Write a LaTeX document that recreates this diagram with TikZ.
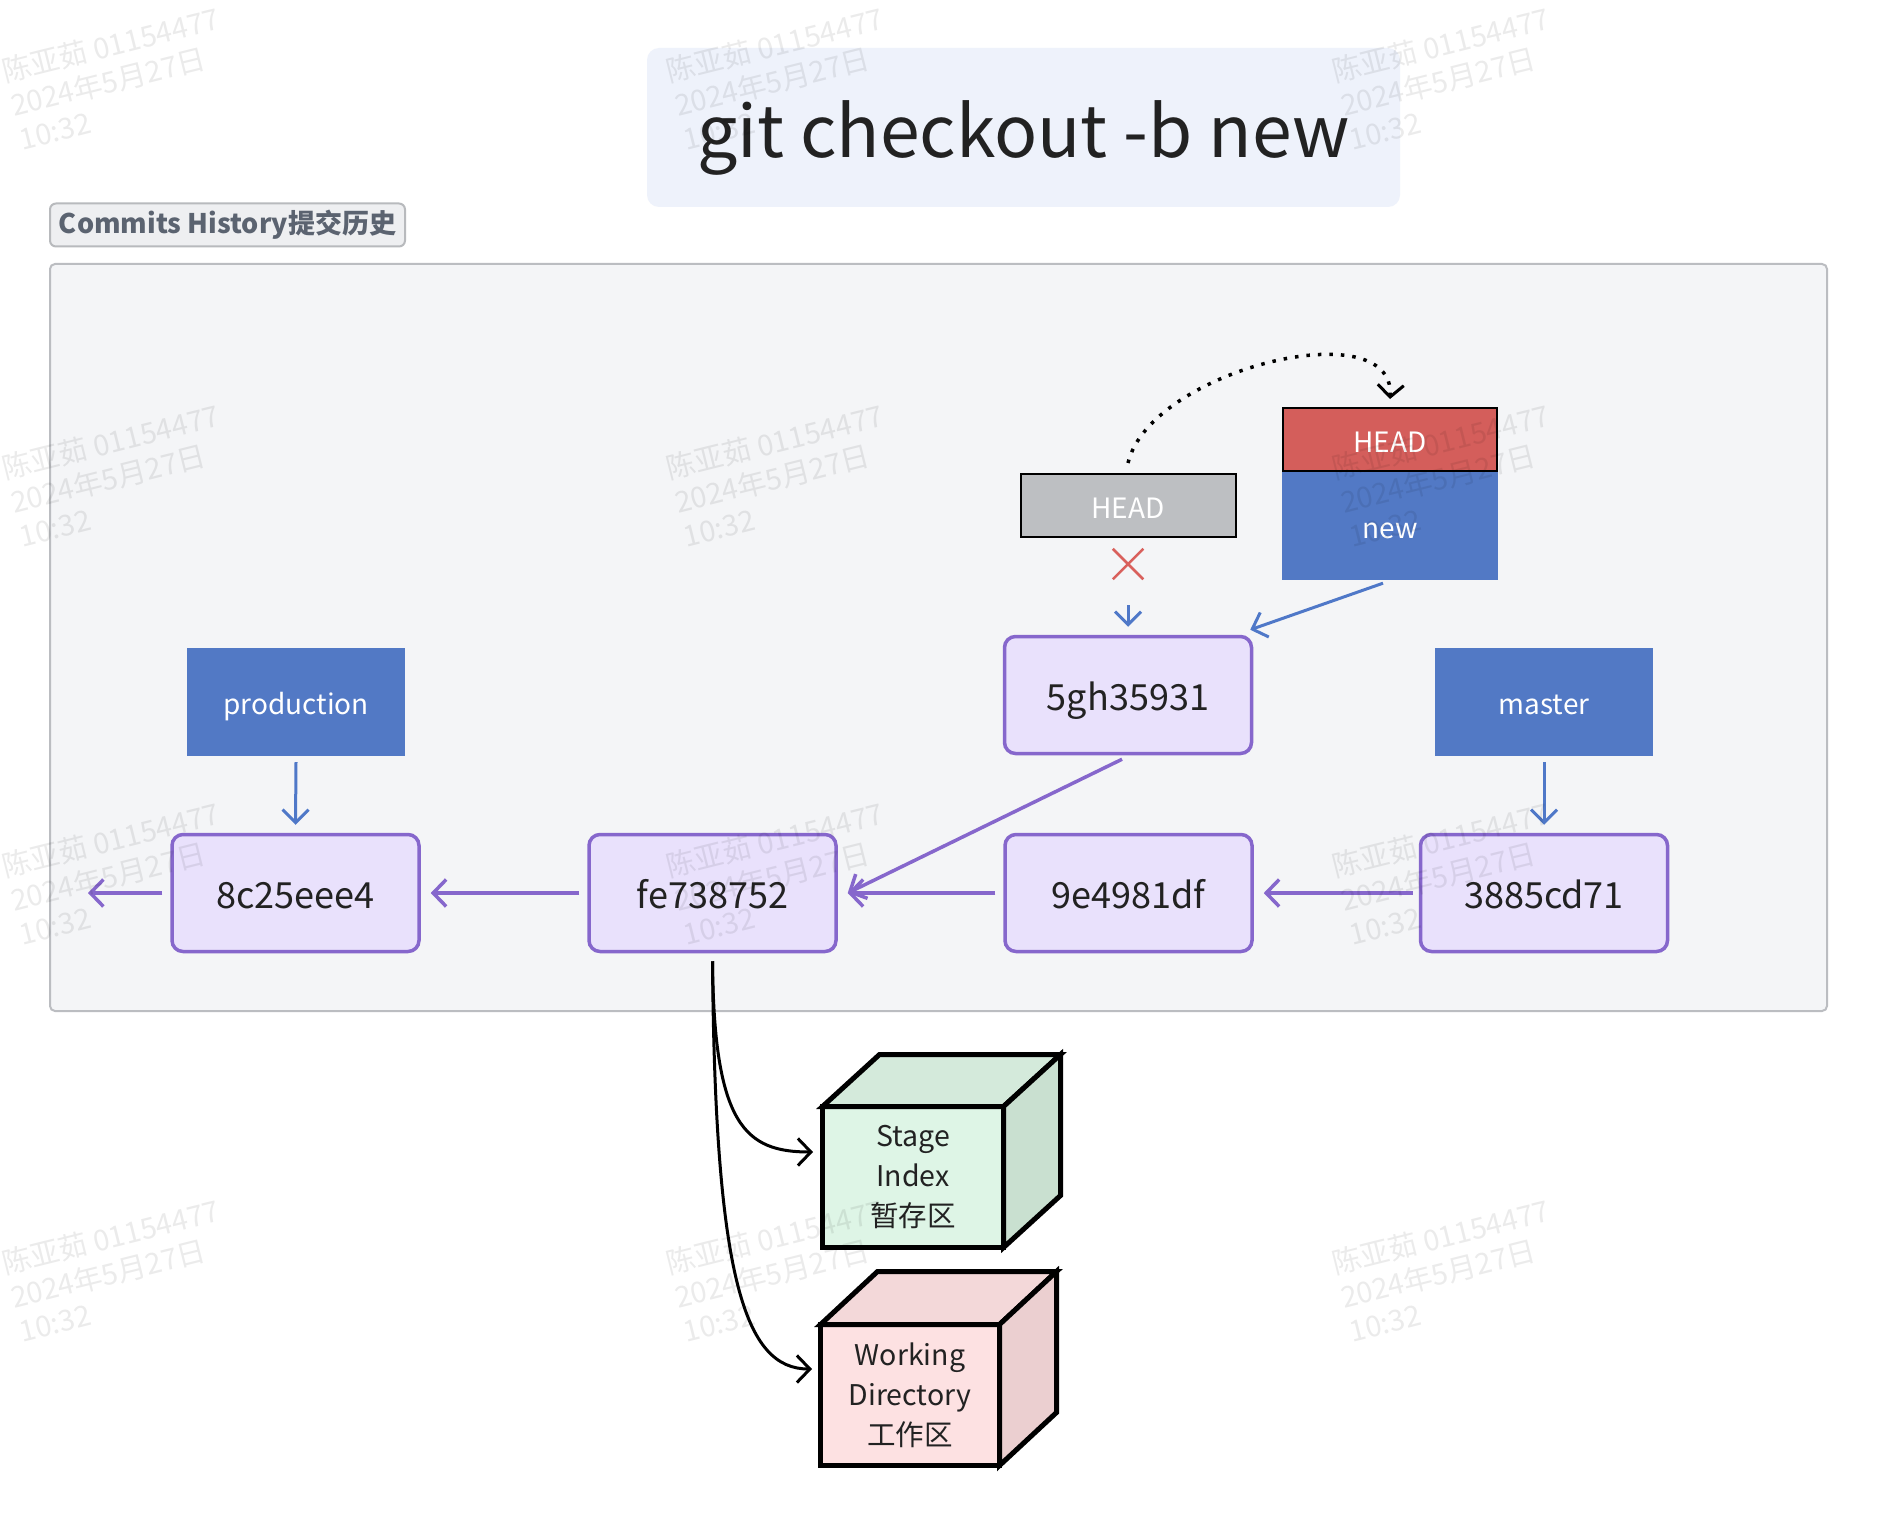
\documentclass[tikz,border=0pt]{standalone}
\usepackage{fontspec}
\setmainfont{Noto Sans CJK SC}
\usetikzlibrary{arrows.meta,calc,shapes.misc}
\definecolor{commitfill}{HTML}{E9E1FC}
\definecolor{commitdraw}{HTML}{8667CC}
\definecolor{branchblue}{HTML}{5279C5}
\definecolor{arrowblue}{HTML}{4F78C8}
\definecolor{headred}{HTML}{D45E5B}
\definecolor{headgray}{HTML}{BDBFC2}
\definecolor{panelfill}{HTML}{F4F5F7}
\definecolor{panelline}{HTML}{BBBDC1}
\definecolor{titlefill}{HTML}{EEF2FB}
\definecolor{labelfill}{HTML}{EEEFF1}
\definecolor{labelline}{HTML}{B8BABD}
\definecolor{labeltext}{HTML}{5B6370}
\definecolor{textdark}{HTML}{222222}
\definecolor{xred}{HTML}{D9605C}
\definecolor{stgfront}{HTML}{DEF5E6}
\definecolor{stgtop}{HTML}{D4EADB}
\definecolor{stgside}{HTML}{C9E0D0}
\definecolor{wrkfront}{HTML}{FDE1E2}
\definecolor{wrktop}{HTML}{F3D8D9}
\definecolor{wrkside}{HTML}{EBCFD0}
\tikzset{
  commit/.style={draw=commitdraw, line width=3.5pt, fill=commitfill, rounded corners=11pt,
    minimum width=247pt, minimum height=117pt, inner sep=0pt, text=textdark,
    text height=31pt, text depth=0pt, font=\fontsize{36}{42}\selectfont},
  branch/.style={fill=branchblue, minimum width=218pt, minimum height=108pt, inner sep=0pt,
    text=white, text height=25pt, text depth=0pt, font=\fontsize{28}{34}\selectfont},
  headbox/.style={draw=black, line width=2pt, minimum width=215pt, minimum height=63pt,
    inner sep=0pt, text=white, text height=25pt, text depth=0pt, font=\fontsize{28}{34}\selectfont},
  parrow/.style={draw=commitdraw, line width=3.5pt, -{Straight Barb[length=13pt,width=27pt,line width=3.5pt]}},
  barrow/.style={draw=arrowblue, line width=3pt, -{Straight Barb[length=13pt,width=26pt,line width=3pt]}},
  karrow/.style={draw=black, line width=3pt, -{Straight Barb[length=13pt,width=27pt,line width=3pt]}},
  dotarrow/.style={draw=black, line width=3.5pt, dash pattern=on 3.5pt off 8pt,
    -{Straight Barb[length=12pt,width=26pt,line width=3pt]}},
  cubefront/.style={draw=black, line width=5pt, outer sep=0pt, minimum height=141pt,
    inner sep=0pt, align=center, text=textdark, font=\fontsize{28.5}{40}\selectfont},
  cubeline/.style={draw=black, line width=5pt, line join=miter},
  wm/.style={rotate=14, align=left, inner sep=0pt, text=black, text opacity=0.08,
    font=\fontsize{29}{35}\selectfont}
}
\begin{document}
\begin{tikzpicture}[x=1pt,y=-1pt]
\useasboundingbox[fill=white] (0,0) rectangle (1878,1514);
% title
\node[fill=titlefill, rounded corners=12pt, minimum width=753pt, minimum height=159pt] (titlebox) at (1023.5,127.5) {};
\node[anchor=base, inner sep=0pt, text=textdark, font=\fontsize{71.5}{84}\selectfont] (title) at (1023.5,158) {git checkout -b new};
% panel
\node[draw=panelline, line width=2pt, fill=panelfill, rounded corners=5pt, minimum width=1777pt, minimum height=747pt] (panel) at (938.5,637.5) {};
\node[draw=labelline, line width=2pt, fill=labelfill, rounded corners=6pt, minimum width=355pt, minimum height=43pt, inner sep=0pt,
  text=labeltext, font=\bfseries\fontsize{27}{32}\selectfont] (label) at (227.5,225) {Commits History提交历史};
% commits
\node[commit] (n8c) at (295.5,893) {8c25eee4};
\node[commit] (nfe) at (712.5,893) {fe738752};
\node[commit] (n9e) at (1128.5,893) {9e4981df};
\node[commit] (n38) at (1544,893) {3885cd71};
\node[commit] (n5g) at (1128,695) {5gh35931};
% branches
\node[branch] (prod) at (296,702) {production};
\node[branch] (mast) at (1544,702) {master};
\node[headbox, fill=headgray] (headold) at (1128,505.5) {HEAD};
\node[branch, minimum width=216pt] (newb) at (1390,526) {new};
\node[headbox, fill=headred, minimum width=214pt] (headred) at (1390,439.5) {HEAD};
\node[cross out, draw=xred, line width=2.5pt, minimum size=28pt, inner sep=0pt] (xmark) at (1128,564) {};
\coordinate (leftend) at (88,893);
% arrows
\draw[barrow] ([yshift=-6pt]prod.south) -- ([yshift=8pt]n8c.north);
\draw[barrow] ([yshift=-6pt]mast.south) -- ([yshift=8pt]n38.north);
\draw[parrow] ([xshift=-6pt]n38.west) -- ([xshift=10pt]n9e.east);
\draw[parrow] ([xshift=-8pt]n9e.west) -- ([xshift=10pt]nfe.east);
\draw[parrow] ([xshift=-8pt]nfe.west) -- ([xshift=10pt]n8c.east);
\draw[parrow] ([xshift=-8pt]n8c.west) -- (leftend);
\draw[parrow] ([xshift=-6pt,yshift=-4pt]n5g.south) -- ([xshift=10pt]nfe.east);
\draw[barrow] ([yshift=-67pt]headold.south) -- ([yshift=8pt]n5g.north);
\draw[barrow] ([xshift=-7pt,yshift=-3pt]newb.south) -- ([xshift=-3pt,yshift=5pt]n5g.north east);
\draw[dotarrow] ([yshift=10pt]headold.north) .. controls (1150,370) and (1395,310) .. ([yshift=8pt]headred.north);
% cubes
\node[cubefront, fill=stgfront, minimum width=181pt] (stage) at (913,1177) {Stage\\Index\\暂存区};
\draw[cubeline, fill=stgtop] (stage.north west) -- ++(57,-52) -- ($(stage.north east)+(57,-52)$) -- (stage.north east) -- cycle;
\draw[cubeline, fill=stgside] (stage.north east) -- ++(57,-52) -- ($(stage.south east)+(57,-52)$) -- (stage.south east) -- cycle;
\node[cubefront, fill=wrkfront, minimum width=179pt] (work) at (910,1395) {Working\\Directory\\工作区};
\draw[cubeline, fill=wrktop] (work.north west) -- ++(57,-53) -- ($(work.north east)+(57,-53)$) -- (work.north east) -- cycle;
\draw[cubeline, fill=wrkside] (work.north east) -- ++(57,-53) -- ($(work.south east)+(57,-53)$) -- (work.south east) -- cycle;
\draw[karrow] ([yshift=-8pt]nfe.south) .. controls (714,1125) and (745,1152) .. ([xshift=-9.5pt,yshift=25pt]stage.west);
\draw[karrow] ([yshift=-8pt]nfe.south) .. controls (715,1280) and (745,1369) .. ([xshift=-8.5pt,yshift=26pt]work.west);
% watermarks
\foreach \wx in {119,783,1449}{
  \foreach \wy in {78,475,873,1270}{
    \node[wm] (wm-\wx-\wy) at (\wx,\wy) {陈亚茹 01154477\\2024年5月27日\\10:32};
  }
}
\end{tikzpicture}
\end{document}
